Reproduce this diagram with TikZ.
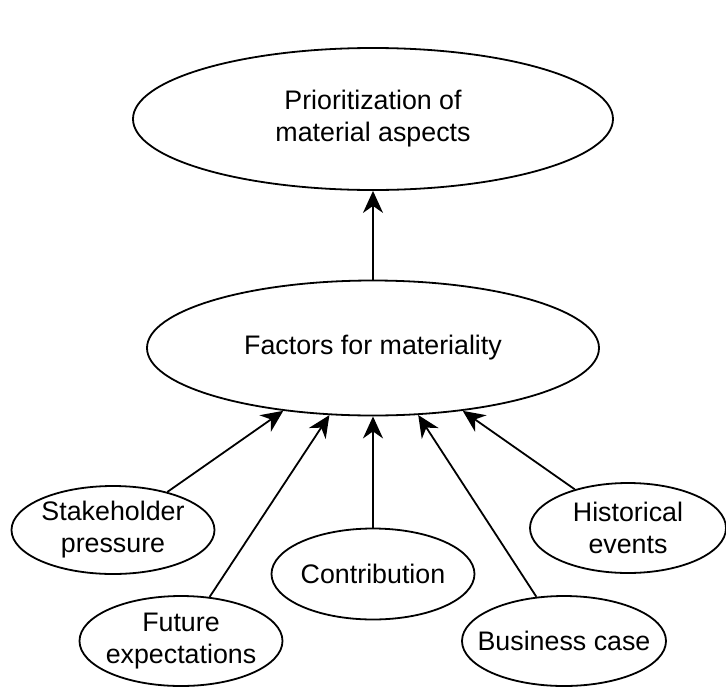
\documentclass[tikz,border=0pt]{standalone}
\usepackage{fontspec}
\setmainfont{Liberation Sans}
\usetikzlibrary{arrows.meta, shapes.geometric}
\tikzset{
  bubble/.style={ellipse,draw,line width=1.8pt,inner sep=0pt},
  tag/.style={align=center,font=\fontsize{26.8}{32}\selectfont},
  line/.style={-{Stealth[length=22pt,width=20pt,inset=7pt]},line width=1.8pt}
}

\begin{document}
\begin{tikzpicture}[x=1pt,y=-1pt]
\useasboundingbox (0,0) rectangle (726,686);
\node[bubble, minimum width=480pt, minimum height=142pt, label={[tag]center:Prioritization of\\material aspects}] (prio) at (373,119) {};
\node[bubble, minimum width=452pt, minimum height=135pt, label={[tag]center:Factors for materiality}] (factors) at (373,348) {};
\node[bubble, minimum width=203pt, minimum height=88pt, label={[tag]center:Stakeholder\\pressure}] (stake) at (113,530) {};
\node[bubble, minimum width=203pt, minimum height=90pt, label={[tag]center:Future\\expectations}] (future) at (181,641) {};
\node[bubble, minimum width=203pt, minimum height=91pt, label={[tag]center:Contribution}] (contrib) at (373,574) {};
\node[bubble, minimum width=204pt, minimum height=90pt, label={[tag]center:Business case}] (business) at (564,641) {};
\node[bubble, minimum width=196pt, minimum height=90pt, label={[tag]center:Historical\\events}] (history) at (628,528) {};
\draw[line] (factors.north) -- (prio.south);
\draw[line] (stake.35) -- (factors.215);
\draw[line] (future.57) -- (factors.237);
\draw[line] (contrib.north) -- (factors.south);
\draw[line] (business.122) -- (factors.304);
\draw[line] (history.144) -- (factors.325);
\end{tikzpicture}
\end{document}
